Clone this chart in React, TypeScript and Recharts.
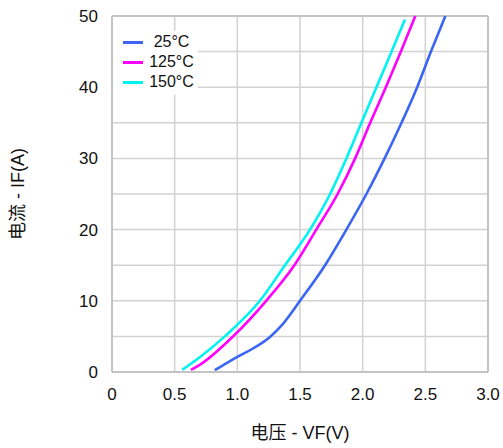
import { CartesianGrid, Label, Line, LineChart, ReferenceLine, XAxis, YAxis } from "recharts";

// forward voltage (V) vs forward current (A)
const vf25 = [0.82, 1.0, 1.125, 1.265, 1.366, 1.5, 1.7, 1.87, 2.03, 2.175, 2.31, 2.435, 2.545, 2.66];
const if25 = [0.25, 2.14, 3.3, 5, 6.8, 10, 15, 20, 25, 30, 35, 40, 45, 50];

const vf125 = [0.63, 0.7, 0.966, 1.23, 1.455, 1.63, 1.8, 1.94, 2.06, 2.185, 2.305, 2.42];
const if125 = [0.3, 1.0, 5, 10, 15, 20, 25, 30, 35, 40, 45, 50];

const vf150 = [0.56, 0.7, 0.9, 1.18, 1.38, 1.58, 1.74, 1.87, 1.99, 2.11, 2.231, 2.337];
const if150 = [0.3, 2.06, 5, 10, 15, 20, 25, 30, 35, 40, 45, 49.5];

const xTicks = [0, 0.5, 1.0, 1.5, 2.0, 2.5, 3.0];
const yTicks = [0, 5, 10, 15, 20, 25, 30, 35, 40, 45, 50];

const series = [
  { name: "25°C", color: "#3b66f5", v: vf25, i: if25 },
  { name: "125°C", color: "#ff00ff", v: vf125, i: if125 },
  { name: "150°C", color: "#00f2f2", v: vf150, i: if150 },
];

const font = "'Liberation Sans', Arial, 'Noto Sans CJK SC', sans-serif";
const gridColor = "#d2d2d2";

function TempLegend() {
  return (
    <div
      style={{
        position: "absolute",
        left: 113,
        top: 31,
        background: "#fff",
        width: 85,
        padding: "1px 0 3px",
        fontFamily: font,
        fontSize: 16,
        color: "#111",
      }}
    >
      {series.map((s) => (
        <div key={s.name} style={{ display: "flex", alignItems: "center", height: 20 }}>
          <span
            style={{
              display: "inline-block",
              width: 20,
              height: 3,
              background: s.color,
              marginLeft: 10,
            }}
          />
          <span style={{ flex: 1, textAlign: "center", marginLeft: 2 }}>{s.name}</span>
        </div>
      ))}
    </div>
  );
}

export default function App() {
  return (
    <div style={{ position: "fixed", left: 0, top: 0, width: 503, height: 448, background: "#fff" }}>
      <LineChart
        width={503}
        height={448}
        margin={{ top: 16, right: 15, left: 0, bottom: 0 }}
        style={{ fontFamily: font }}
      >
        <CartesianGrid stroke={gridColor} strokeWidth={1.5} />
        <XAxis
          type="number"
          dataKey="v"
          domain={[0, 3]}
          ticks={xTicks}
          interval={0}
          tickFormatter={(v: number) => (v === 0 ? "0" : v.toFixed(1))}
          tick={{ fill: "#111", fontSize: 17 }}
          tickLine={false}
          tickMargin={10}
          axisLine={{ stroke: "#c4c4c4", strokeWidth: 2 }}
          height={76}
        >
          <Label
            value="电压 - VF(V)"
            position="insideBottom"
            offset={9}
            style={{ fill: "#111", fontSize: 18, fontFamily: font }}
          />
        </XAxis>
        <YAxis
          type="number"
          dataKey="i"
          domain={[0, 50]}
          ticks={yTicks}
          interval={0}
          tickFormatter={(v: number) => (v % 10 === 0 ? String(v) : "")}
          tick={{ fill: "#111", fontSize: 17 }}
          tickLine={false}
          tickMargin={8}
          axisLine={{ stroke: "#c4c4c4", strokeWidth: 2 }}
          width={112}
        >
          <Label
            value="电流 - IF(A)"
            angle={-90}
            position="insideLeft"
            offset={18}
            style={{ fill: "#111", fontSize: 18, fontFamily: font, textAnchor: "middle" }}
          />
        </YAxis>
        <ReferenceLine y={50} stroke="#c4c4c4" strokeWidth={2} />
        <ReferenceLine x={3} stroke="#c4c4c4" strokeWidth={2} />
        {series.map((s) => (
          <Line
            key={s.name}
            name={s.name}
            data={s.v.map((v, k) => ({ v, i: s.i[k] }))}
            dataKey="i"
            type="monotone"
            stroke={s.color}
            strokeWidth={2.6}
            dot={false}
            isAnimationActive={false}
          />
        ))}
      </LineChart>
      <TempLegend />
    </div>
  );
}
